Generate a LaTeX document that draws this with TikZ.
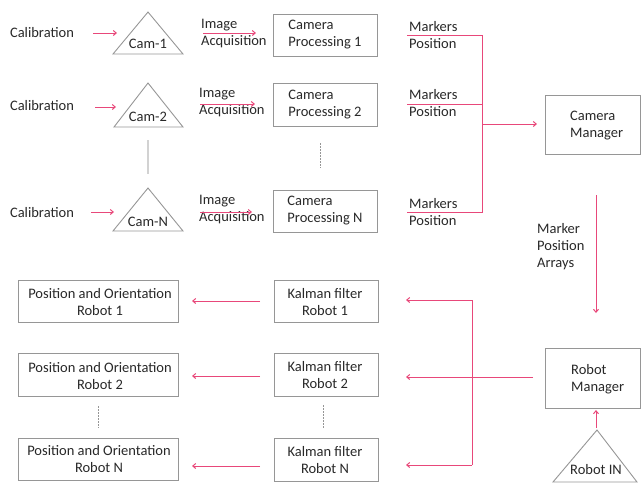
\documentclass[tikz,border=0pt]{standalone}
\usepackage{fontspec}
\setmainfont{Carlito}
\usetikzlibrary{arrows.meta}
\definecolor{pinkline}{RGB}{232,72,122}
\definecolor{boxgray}{RGB}{150,150,150}
\definecolor{txt}{RGB}{40,40,40}
\begin{document}
\begin{tikzpicture}[x=1pt,y=-1pt,
  every node/.style={font=\fontsize{14.5}{17}\selectfont,text=txt,inner sep=0pt},
  box/.style={draw=boxgray,line width=0.8pt},
  flow/.style={draw=pinkline,line width=1pt,-{Straight Barb[length=3pt,width=5pt]}},
  plain/.style={draw=pinkline,line width=1pt},
  tri/.style={draw=boxgray,line width=0.9pt},
  dots/.style={draw=boxgray,line width=0.8pt,dash pattern=on 1.5pt off 1.5pt},
  lab/.style={align=left,anchor=west}]
\useasboundingbox (0,0) rectangle (641,483);

% Calibration labels
\node (cal1) at (42,33) {Calibration};
\node (cal2) at (42,106) {Calibration};
\node (calN) at (42,213) {Calibration};

% Camera triangles
\draw[tri] (148,12) -- (113,54) -- (183,54) -- cycle;
\draw[tri] (148,83) -- (114,127) -- (183,127) -- cycle;
\draw[tri] (148,188) -- (113,231) -- (183,231) -- cycle;
\node (cam1) at (148,44) {Cam-1};
\node (cam2) at (148,117) {Cam-2};
\node (camN) at (148,222) {Cam-N};
\coordinate (cam2b) at (148,140);
\coordinate (camNt) at (148,174);
\draw[draw=gray!35,line width=1.5pt] (cam2b) -- (camNt);

% arrows calibration -> cam
\coordinate (c1s) at (93,33);  \coordinate (c1e) at (117,33);
\coordinate (c2s) at (95,107); \coordinate (c2e) at (116,107);
\coordinate (cNs) at (91,212); \coordinate (cNe) at (114,212);
\draw[flow] (c1s) -- (c1e);
\draw[flow] (c2s) -- (c2e);
\draw[flow] (cNs) -- (cNe);

% Image acquisition
\node[lab] (ia1) at (201,34) {Image\\Acquisition};
\node[lab] (ia2) at (199,103) {Image\\Acquisition};
\node[lab] (iaN) at (199,210) {Image\\Acquisition};
\coordinate (i1s) at (203,33);  \coordinate (i1e) at (256,33);
\coordinate (i2s) at (200,104); \coordinate (i2e) at (255,104);
\coordinate (iNs) at (200,212); \coordinate (iNe) at (252,212);
\draw[flow] (i1s) -- (i1e);
\draw[flow] (i2s) -- (i2e);
\draw[flow] (iNs) -- (iNe);

% Camera processing boxes
\node[box,minimum width=104pt,minimum height=42pt,align=left] (cp1) at (325,35) {Camera\\Processing 1};
\node[box,minimum width=104pt,minimum height=43pt,align=left] (cp2) at (325,104.5) {Camera\\Processing 2};
\node[box,minimum width=104pt,minimum height=42pt,align=left] (cpN) at (325,211) {Camera\\Processing N};
\coordinate (cpd1) at (320,143); \coordinate (cpd2) at (320,168);
\draw[dots] (cpd1) -- (cpd2);

% Markers position
\node[lab] (mp1) at (409,35) {Markers\\Position};
\node[lab] (mp2) at (409,103) {Markers\\Position};
\node[lab] (mpN) at (409,212) {Markers\\Position};
\coordinate (m1) at (407,35);  \coordinate (m2) at (407,104); \coordinate (mN) at (407,212);
\coordinate (j1) at (482,35);  \coordinate (j2) at (482,104); \coordinate (jN) at (482,212);
\coordinate (jm) at (482,124); \coordinate (cmin) at (537,124);
\draw[plain] (m1) -- (j1) -- (jN) -- (mN);
\draw[plain] (m2) -- (j2);
\draw[flow] (jm) -- (cmin);

% Camera manager
\node[box,minimum width=95pt,minimum height=59pt] (cm) at (592.5,124.5) {};
\node[align=left,anchor=west] (cmt) at (570,126) {Camera\\Manager};

% Marker position arrays
\node[lab] (mpa) at (537,247) {Marker\\Position\\Arrays};
\coordinate (a1) at (596,195); \coordinate (a2) at (596,313);
\draw[flow] (a1) -- (a2);

% Robot manager
\node[box,minimum width=95pt,minimum height=60pt] (rm) at (592.5,378) {};
\node[align=left,anchor=west] (rmt) at (571,379) {Robot\\Manager};

% Robot IN
\draw[tri] (597,430) -- (553,482) -- (637,482) -- cycle;
\node (rin) at (596,470) {Robot IN};
\coordinate (r1) at (596,428); \coordinate (r2) at (596,410);
\draw[flow] (r1) -- (r2);

% Robot manager -> Kalman filters
\coordinate (rms) at (533,377); \coordinate (k2in) at (406,377);
\coordinate (vt) at (472,300); \coordinate (vb) at (472,465);
\coordinate (k1in) at (406,300); \coordinate (kNin) at (406,465);
\draw[flow] (rms) -- (k2in);
\draw[plain] (vt) -- (vb);
\draw[flow] (vt) -- (k1in);
\draw[flow] (vb) -- (kNin);

% Kalman filter boxes
\node[box,minimum width=104pt,minimum height=42pt] (kf1) at (326,301) {};
\node[box,minimum width=104pt,minimum height=43pt] (kf2) at (326,374.5) {};
\node[box,minimum width=104pt,minimum height=43pt] (kfN) at (326,459.5) {};
\node[align=center] (kf1t) at (325,302) {Kalman filter\\Robot 1};
\node[align=center] (kf2t) at (325,375) {Kalman filter\\Robot 2};
\node[align=center] (kfNt) at (325,460) {Kalman filter\\Robot N};
\coordinate (kd1) at (323,405); \coordinate (kd2) at (323,428);
\draw[dots] (kd1) -- (kd2);

% Kalman -> position arrows
\coordinate (p1s) at (260,301); \coordinate (p1e) at (192,301);
\coordinate (p2s) at (260,376); \coordinate (p2e) at (192,376);
\coordinate (pNs) at (260,466); \coordinate (pNe) at (192,466);
\draw[flow] (p1s) -- (p1e);
\draw[flow] (p2s) -- (p2e);
\draw[flow] (pNs) -- (pNe);

% Position and orientation boxes
\node[box,minimum width=160pt,minimum height=42pt] (po1) at (98,301) {};
\node[box,minimum width=160pt,minimum height=43pt] (po2) at (98,374.5) {};
\node[box,minimum width=160pt,minimum height=42pt] (poN) at (98,459) {};
\node[align=center] (po1t) at (100,302) {Position and Orientation\\Robot 1};
\node[align=center] (po2t) at (100,376) {Position and Orientation\\Robot 2};
\node[align=center] (poNt) at (99,459) {Position and Orientation\\Robot N};
\coordinate (pd1) at (98,406); \coordinate (pd2) at (98,428);
\draw[dots] (pd1) -- (pd2);
\end{tikzpicture}
\end{document}
